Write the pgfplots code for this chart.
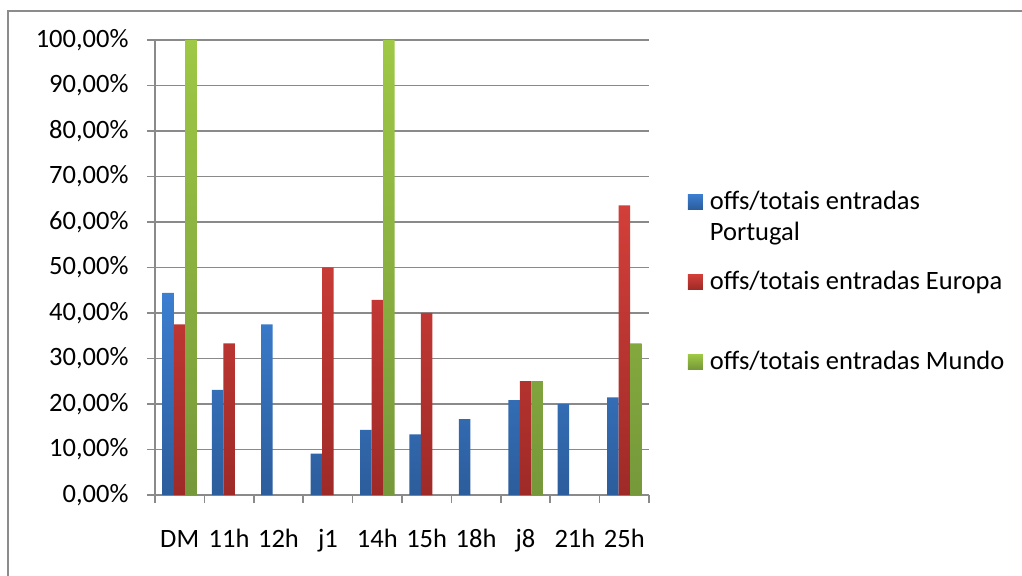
\documentclass[border=0pt]{standalone}
\usepackage{fontspec}
\setmainfont{Carlito}
\usepackage{pgfplots}
\pgfplotsset{compat=1.18}
\definecolor{blueT}{HTML}{3C7ED0}
\definecolor{blueB}{HTML}{2C5D9C}
\definecolor{redT}{HTML}{D33F3A}
\definecolor{redB}{HTML}{9E2A27}
\definecolor{greenT}{HTML}{9EC845}
\definecolor{greenB}{HTML}{76983A}
\definecolor{gridC}{HTML}{8A8A8A}
\definecolor{borderC}{HTML}{8C8C8C}
\newcommand{\cf}{\fontsize{26.5bp}{31bp}\selectfont}
\newcommand{\ls}{\rule[-8bp]{0pt}{28bp}}
\begin{document}
\begin{tikzpicture}
\path[use as bounding box] (-155bp,-81bp) rectangle (867bp,495bp);
\draw[color=borderC, line width=2bp] (-147bp,-120bp) -- (-147bp,484bp) -- (900bp,484bp);
\begin{axis}[
  scale only axis, width=494bp, height=455bp,
  ybar, bar width=11.5bp,
  xmin=-0.5, xmax=9.5, ymin=0, ymax=100,
  axis x line*=bottom, axis y line*=left,
  axis line style={color=gridC, line width=1.6bp},
  ymajorgrids, grid style={color=gridC, line width=1.6bp},
  tick align=outside, major tick length=8bp,
  tick style={color=gridC, line width=1.6bp},
  ytick={0,10,...,100},
  yticklabels={{0,00\%},{10,00\%},{20,00\%},{30,00\%},{40,00\%},{50,00\%},{60,00\%},{70,00\%},{80,00\%},{90,00\%},{100,00\%}},
  yticklabel style={font=\cf, xshift=-15bp},
  xtick={-0.5,0.5,...,9.5}, xticklabels={},
  extra x ticks={0,1,...,9},
  extra x tick labels={DM,11h,12h,j1,14h,15h,18h,j8,21h,25h},
  extra x tick style={tick style={draw=none}, xticklabel style={font=\cf, text height=19.5bp, text depth=6bp, yshift=-21bp}},
  legend style={at={(1.0789,0.672)}, anchor=north west, draw=none, fill=none,
    inner sep=0pt, outer sep=0pt, row sep=58.5bp, column sep=7bp,
    font=\cf, cells={anchor=base west}, nodes={inner sep=0pt}},
  sq/.style={legend image code/.code={\fill[##1] (0bp,0bp) rectangle (15bp,15bp);}},
]
\addplot[draw=none, top color=blueT, bottom color=blueB, bar shift=-11.5bp, sq]
  coordinates {(0,44.44) (1,23.08) (2,37.5) (3,9.09) (4,14.29) (5,13.33) (6,16.67) (7,20.83) (8,20.0) (9,21.43)};
\addlegendentry{\smash{\begin{tabular}[t]{@{}l@{}}offs/totais entradas\\Portugal\end{tabular}}\ls}
\addplot[draw=none, top color=redT, bottom color=redB, bar shift=0bp, sq]
  coordinates {(0,37.5) (1,33.33) (3,50) (4,42.86) (5,40) (7,25) (9,63.64)};
\addlegendentry{offs/totais entradas Europa\ls}
\addplot[draw=none, top color=greenT, bottom color=greenB, bar shift=11.5bp, sq]
  coordinates {(0,100) (4,100) (7,25) (9,33.33)};
\addlegendentry{offs/totais entradas Mundo\ls}
\end{axis}
\end{tikzpicture}
\end{document}
